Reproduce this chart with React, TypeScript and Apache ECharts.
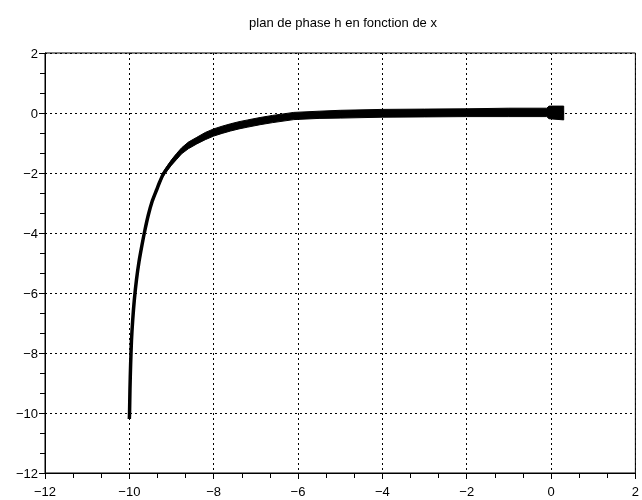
import React, { useEffect, useRef } from "react";
import * as echarts from "echarts";

const titleText = "plan de phase h en fonction de x";
const xMin = -12;
const xMax = 2;
const yMin = -12;
const yMax = 2;
const tickStep = 2;

// trajectory (x, h)
const xValues = [-10, -9.995, -9.985, -9.97, -9.95, -9.92, -9.88, -9.83, -9.77, -9.7, -9.63, -9.55, -9.46, -9.35, -9.28, -9.2, -9.1, -9.0, -8.88, -8.76, -8.6, -8.4, -8.2, -8.0, -7.8, -7.6, -7.4, -7.19, -6.9, -6.6, -6.1, -5.5, -5.0, -4.0, -3.0, -2.0, -1.0, -0.1, -0.05, 0.3];
const hValues = [-10.2, -10.0, -9.2, -8.4, -7.6, -6.9, -6.2, -5.55, -4.95, -4.4, -3.9, -3.4, -2.95, -2.55, -2.3, -2.05, -1.84, -1.65, -1.45, -1.26, -1.08, -0.92, -0.77, -0.65, -0.56, -0.48, -0.41, -0.35, -0.27, -0.2, -0.1, -0.06, -0.04, -0.01, 0.0, 0.01, 0.02, 0.02, 0.02, 0.0];
// half thickness of the noisy band around the trajectory (h units)
const noiseHalf = [0, 0, 0, 0, 0, 0, 0, 0, 0, 0, 0, 0, 0, 0.04, 0.05, 0.07, 0.08, 0.09, 0.1, 0.1, 0.11, 0.11, 0.12, 0.12, 0.12, 0.12, 0.12, 0.12, 0.12, 0.12, 0.12, 0.12, 0.13, 0.13, 0.13, 0.13, 0.14, 0.14, 0.21, 0.23];

const fmt = (v: number) => (v < 0 ? "\u2212" + Math.abs(v) : String(v));
const font = "Liberation Sans, Arial, Helvetica, sans-serif";

export default function App() {
  const ref = useRef<HTMLDivElement>(null);
  useEffect(() => {
    const chart = echarts.init(ref.current!, null, { renderer: "svg" });
    const bandIdx = xValues.map((_, i) => i).filter((i) => noiseHalf[i] > 0);
    const axisCommon = {
      type: "value",
      interval: tickStep,
      axisLine: { show: true, onZero: false, lineStyle: { color: "#000", width: 1 } },
      axisTick: { show: true, inside: false, length: 6, lineStyle: { color: "#000", width: 1 } },
      minorTick: { show: true, splitNumber: 3, length: 5, lineStyle: { color: "#000", width: 1 } },
      splitLine: { show: true, lineStyle: { color: "#000", width: 1, type: [2, 3] } },
      axisLabel: {
        color: "#000",
        fontSize: 13,
        fontFamily: font,
        formatter: (v: number) => fmt(v),
      },
    };
    chart.setOption({
      animation: false,
      title: {
        text: titleText,
        left: 338,
        top: 11,
        textAlign: "center",
        textStyle: { color: "#000", fontSize: 13, fontWeight: "normal", fontFamily: font },
      },
      grid: {
        left: 45,
        right: 1,
        top: 53,
        bottom: 27,
        show: true,
        borderColor: "#000",
        borderWidth: 1,
        containLabel: false,
      },
      xAxis: {
        ...axisCommon,
        min: xMin,
        max: xMax,
        axisLabel: { ...axisCommon.axisLabel, margin: 12, showMaxLabel: true },
      },
      yAxis: {
        ...axisCommon,
        min: yMin,
        max: yMax,
        axisLabel: { ...axisCommon.axisLabel, margin: 7 },
      },
      series: [
        {
          type: "custom",
          clip: true,
          silent: true,
          data: [[xValues[bandIdx[0]], hValues[bandIdx[0]]]],
          renderItem: (_params: any, api: any) => {
            const upper = bandIdx.map((i) => api.coord([xValues[i], hValues[i] + noiseHalf[i]]));
            const lower = bandIdx
              .map((i) => api.coord([xValues[i], hValues[i] - noiseHalf[i]]))
              .reverse();
            return {
              type: "polygon",
              shape: { points: upper.concat(lower) },
              style: { fill: "#000", stroke: "#000", lineWidth: 1 },
            };
          },
          z: 3,
        },
        {
          type: "line",
          data: xValues.map((x, i) => [x, hValues[i]]),
          showSymbol: false,
          smooth: 0.25,
          lineStyle: { color: "#000", width: 3.5 },
          z: 4,
        },
      ],
    });
    return () => chart.dispose();
  }, []);
  return (
    <div
      ref={ref}
      style={{ position: "fixed", left: 0, top: 0, width: 642, height: 500 }}
    />
  );
}
